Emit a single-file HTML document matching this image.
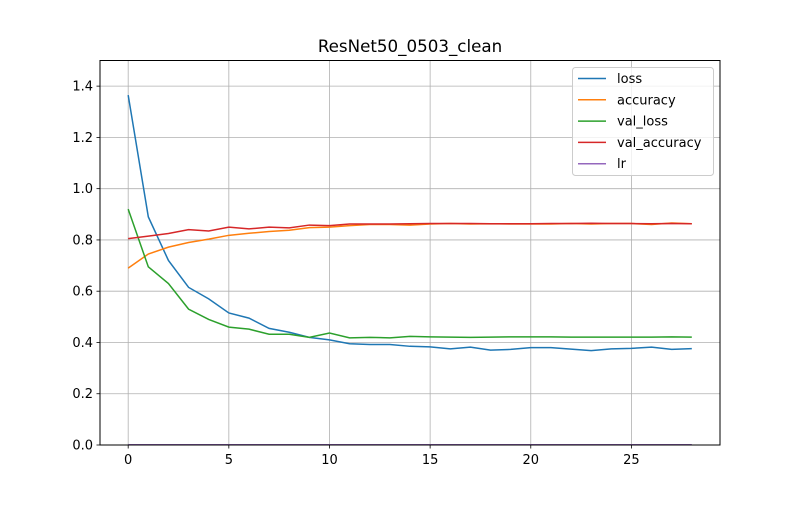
<!DOCTYPE html>
<html><head><meta charset="utf-8"><style>
body{margin:0;background:#fff;}
svg text{font-family:"DejaVu Sans","Liberation Sans",sans-serif;}
</style></head><body>
<svg id="chart" width="800" height="500" xmlns="http://www.w3.org/2000/svg">
<rect width="800" height="500" fill="#fff"/>
<text x="410" y="52" text-anchor="middle" font-size="16.7">ResNet50_0503_clean</text>
<g id="grid"></g>
<g id="series"></g>
<rect x="100" y="60.5" width="620" height="384.5" fill="none" stroke="#000" stroke-width="1"/>
<g id="ticks"></g>
<g id="legend"></g>
</svg>
<script>
const epochs=[0,1,2,3,4,5,6,7,8,9,10,11,12,13,14,15,16,17,18,19,20,21,22,23,24,25,26,27,28];
const loss=[1.365,0.89,0.72,0.615,0.57,0.515,0.495,0.455,0.44,0.42,0.41,0.395,0.392,0.392,0.385,0.383,0.375,0.382,0.37,0.373,0.38,0.38,0.374,0.368,0.375,0.377,0.382,0.373,0.376];
const accuracy=[0.69,0.745,0.772,0.79,0.803,0.818,0.826,0.833,0.838,0.848,0.85,0.856,0.86,0.86,0.858,0.862,0.864,0.862,0.863,0.862,0.862,0.862,0.864,0.862,0.864,0.864,0.86,0.866,0.863];
const valLoss=[0.92,0.695,0.63,0.53,0.49,0.46,0.452,0.432,0.432,0.42,0.437,0.418,0.42,0.418,0.424,0.422,0.421,0.42,0.421,0.422,0.422,0.422,0.421,0.421,0.421,0.421,0.421,0.422,0.421];
const valAccuracy=[0.805,0.815,0.825,0.84,0.835,0.85,0.843,0.85,0.847,0.858,0.856,0.862,0.862,0.862,0.863,0.864,0.864,0.864,0.863,0.863,0.863,0.864,0.864,0.865,0.864,0.864,0.863,0.864,0.863];
const lr=[0.001,0.001,0.001,0.001,0.001,0.001,0.001,0.001,0.001,0.001,0.001,0.001,0.001,0.001,0.001,0.001,0.001,0.001,0.001,0.001,0.001,0.001,0.001,0.001,0.001,0.001,0.001,0.001,0.001];
const xTicks=[0,5,10,15,20,25];
const yTicks=[0,0.2,0.4,0.6,0.8,1.0,1.2,1.4];
const seriesNames=["loss","accuracy","val_loss","val_accuracy","lr"];
const seriesColors=["#1f77b4","#ff7f0e","#2ca02c","#d62728","#9467bd"];
const seriesData=[loss,accuracy,valLoss,valAccuracy,lr];

const NS="http://www.w3.org/2000/svg";
const X0=100,X1=720,Y0=445,Y1=60.5;
const xMin=-1.4,xMax=29.4,yMin=0,yMax=1.5;
const sx=v=>X0+(v-xMin)/(xMax-xMin)*(X1-X0);
const sy=v=>Y0-(v-yMin)/(yMax-yMin)*(Y0-Y1);
function mk(tag,attrs,parent){const e=document.createElementNS(NS,tag);for(const k in attrs)e.setAttribute(k,attrs[k]);parent.appendChild(e);return e;}
const grid=document.getElementById('grid'),ticks=document.getElementById('ticks'),ser=document.getElementById('series'),leg=document.getElementById('legend');
xTicks.forEach(t=>{const x=sx(t);
 const g=mk('line',{x1:x,x2:x,y1:Y0,y2:Y1,stroke:'#b0b0b0','stroke-width':0.8},grid);
 
 
 mk('line',{x1:x,x2:x,y1:Y0,y2:Y0+3.5,stroke:'#000','stroke-width':0.8},ticks);
 const tx=mk('text',{x:x,y:Y0+19,'text-anchor':'middle','font-size':13},ticks);tx.textContent=t;
 
 
});
yTicks.forEach(t=>{const y=sy(t);
 const g=mk('line',{x1:X0,x2:X1,y1:y,y2:y,stroke:'#b0b0b0','stroke-width':0.8},grid);
 
 
 mk('line',{x1:X0-3.5,x2:X0,y1:y,y2:y,stroke:'#000','stroke-width':0.8},ticks);
 const tx=mk('text',{x:X0-7,y:y+4.5,'text-anchor':'end','font-size':13},ticks);tx.textContent=t.toFixed(1);
 
 
});
seriesData.forEach((d,i)=>{
 const p=mk('polyline',{points:d.map((v,j)=>sx(epochs[j])+','+sy(v)).join(' '),fill:'none',stroke:seriesColors[i],'stroke-width':1.5},ser);
 
 
});
const lb=mk('rect',{x:572.5,y:67.5,width:141,height:108,rx:3,fill:'#fff','fill-opacity':0.8,stroke:'#ccc'},leg);


seriesNames.forEach((n,i)=>{const y=78.5+i*21.3;
 const l=mk('line',{x1:578,x2:606,y1:y,y2:y,stroke:seriesColors[i],'stroke-width':1.5},leg);
 
 
 const t=mk('text',{x:617,y:y+4.5,'font-size':13},leg);t.textContent=n;
 
 
});
</script>
</body></html>
